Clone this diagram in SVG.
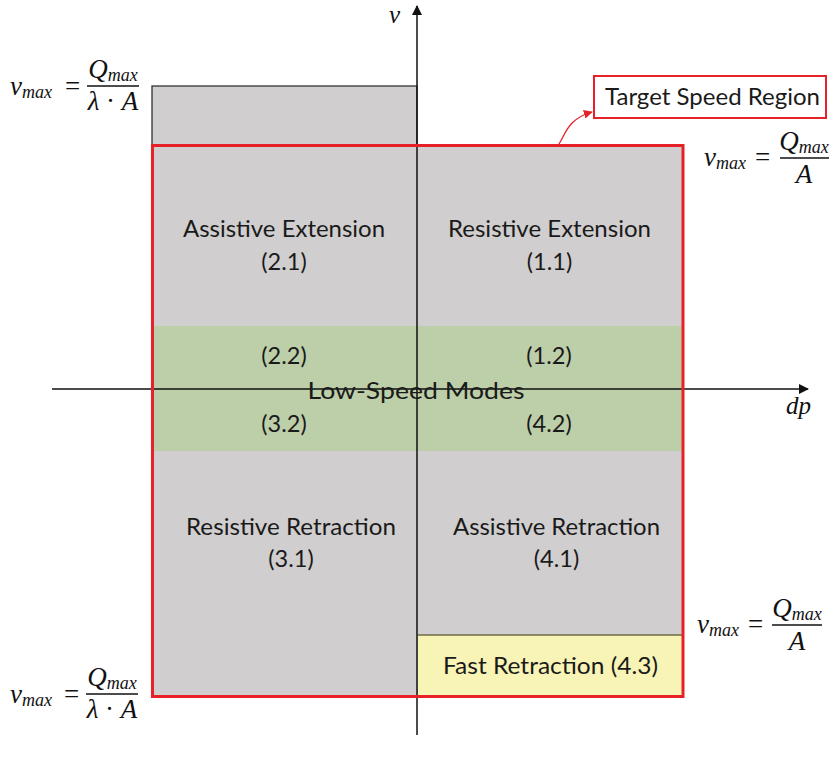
<svg xmlns="http://www.w3.org/2000/svg" width="830" height="761" viewBox="0 0 830 761">
<defs>
<style>
.gray{fill:#d0cece}
.lbl{font-family:"Lato","Open Sans",sans-serif;font-size:23.5px;fill:#1a1a1a;text-anchor:middle}
.mi{font-family:"Liberation Serif",serif;font-style:italic;font-size:27px;fill:#111}
.sub{font-size:18px}
.mo{font-family:"Liberation Serif",serif;font-style:normal;font-size:27px;fill:#111}
.mid{text-anchor:middle}
.bar{stroke:#111;stroke-width:1.4}
.axis{stroke:#111;stroke-width:1.5;fill:none}
</style>
<marker id="ah" viewBox="0 0 10 10" refX="9" refY="5" markerWidth="10" markerHeight="10" markerUnits="userSpaceOnUse" orient="auto">
<path d="M0,0 L10,5 L0,10 z" fill="#111"/>
</marker>
<marker id="ahr" viewBox="0 0 10 10" refX="9" refY="5" markerWidth="9" markerHeight="9" markerUnits="userSpaceOnUse" orient="auto">
<path d="M0,0 L10,5 L0,10 z" fill="#e62228"/>
</marker>
</defs>
<rect width="830" height="761" fill="#fff"/>

<g id="regions">
<rect x="152" y="86" width="265" height="62" class="gray" stroke="#333" stroke-width="1.3"/>
<rect x="152" y="145" width="531" height="551" class="gray"/>
<rect x="152" y="326" width="531" height="125" fill="#bdcfa9"/>
<rect x="418" y="635" width="265" height="61" fill="#f8f4b6"/>
<line x1="418" y1="635" x2="683" y2="635" stroke="#6e6b45" stroke-width="1.3"/>
</g>

<g id="connectors">
<line x1="52" y1="389" x2="808" y2="389" class="axis" marker-end="url(#ah)"/>
<line x1="417" y1="735" x2="417" y2="6" class="axis" marker-end="url(#ah)"/>
<path d="M559,144 C566,133 568,119 592,112" fill="none" stroke="#e62228" stroke-width="1.3" marker-end="url(#ahr)"/>
</g>

<g id="target-region">
<rect x="152.5" y="145.5" width="530.5" height="551" fill="none" stroke="#e62228" stroke-width="3"/>
</g>

<g id="target-label">
<rect x="594" y="76" width="232" height="42" fill="#fff" stroke="#e62228" stroke-width="2"/>
<text x="712.5" y="105" class="lbl" textLength="215" lengthAdjust="spacingAndGlyphs">Target Speed Region</text>
</g>

<g id="mode-2-1">
<text x="284" y="237" class="lbl" textLength="202" lengthAdjust="spacingAndGlyphs">Assistive Extension</text>
<text x="284" y="270" class="lbl">(2.1)</text>
</g>
<g id="mode-1-1">
<text x="549.5" y="237" class="lbl" textLength="203" lengthAdjust="spacingAndGlyphs">Resistive Extension</text>
<text x="549.5" y="270" class="lbl">(1.1)</text>
</g>
<g id="low-speed">
<text x="284" y="364" class="lbl">(2.2)</text>
<text x="549" y="364" class="lbl">(1.2)</text>
<text x="416" y="399" class="lbl" textLength="217" lengthAdjust="spacingAndGlyphs">Low-Speed Modes</text>
<text x="284" y="432" class="lbl">(3.2)</text>
<text x="549" y="432" class="lbl">(4.2)</text>
</g>
<g id="mode-3-1">
<text x="291" y="535" class="lbl" textLength="210" lengthAdjust="spacingAndGlyphs">Resistive Retraction</text>
<text x="291" y="567" class="lbl">(3.1)</text>
</g>
<g id="mode-4-1">
<text x="556.5" y="535" class="lbl" textLength="207" lengthAdjust="spacingAndGlyphs">Assistive Retraction</text>
<text x="556.5" y="567" class="lbl">(4.1)</text>
</g>
<g id="mode-4-3">
<text x="550.5" y="674" class="lbl" textLength="215" lengthAdjust="spacingAndGlyphs">Fast Retraction (4.3)</text>
</g>

<g id="axis-labels">
<text x="389" y="23" class="mi" style="font-size:25px">v</text>
<text x="786" y="414" class="mi" style="font-size:25px">dp</text>
</g>

<g id="vmax-tl">
<text x="10" y="95" class="mi">v<tspan class="sub" dy="3">max</tspan></text>
<text x="65" y="95" class="mo">=</text>
<text x="113" y="78" class="mi mid">Q<tspan class="sub" dy="3">max</tspan></text>
<line x1="87" y1="86" x2="139" y2="86" class="bar"/>
<text x="113" y="110" class="mo mid"><tspan class="mi">λ</tspan> · <tspan class="mi">A</tspan></text>
</g>
<g id="vmax-tr">
<text x="704" y="166" class="mi">v<tspan class="sub" dy="3">max</tspan></text>
<text x="755" y="166" class="mo">=</text>
<text x="804" y="150" class="mi mid">Q<tspan class="sub" dy="3">max</tspan></text>
<line x1="780" y1="158" x2="829" y2="158" class="bar"/>
<text x="804" y="183" class="mi mid">A</text>
</g>
<g id="vmax-br">
<text x="697" y="633" class="mi">v<tspan class="sub" dy="3">max</tspan></text>
<text x="748" y="633" class="mo">=</text>
<text x="797" y="617" class="mi mid">Q<tspan class="sub" dy="3">max</tspan></text>
<line x1="772" y1="625" x2="822" y2="625" class="bar"/>
<text x="797" y="650" class="mi mid">A</text>
</g>
<g id="vmax-bl">
<text x="10" y="703" class="mi">v<tspan class="sub" dy="3">max</tspan></text>
<text x="64" y="703" class="mo">=</text>
<text x="112" y="686" class="mi mid">Q<tspan class="sub" dy="3">max</tspan></text>
<line x1="86" y1="694" x2="138" y2="694" class="bar"/>
<text x="112" y="718" class="mo mid"><tspan class="mi">λ</tspan> · <tspan class="mi">A</tspan></text>
</g>
</svg>
